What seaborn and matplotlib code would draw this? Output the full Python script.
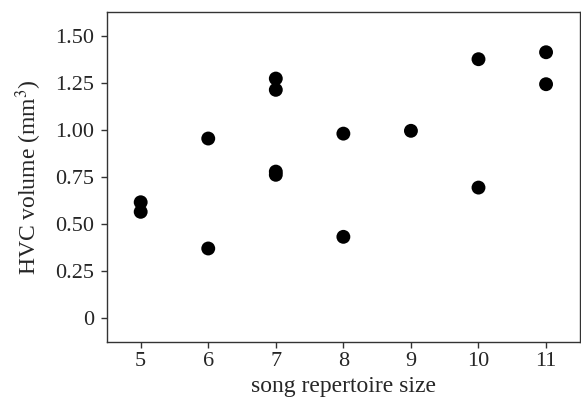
import matplotlib
matplotlib.use('Agg')
import matplotlib.pyplot as plt
import seaborn as sns
import pandas as pd

# song repertoire size vs HVC volume
repertoire = [5, 5, 6, 6, 7, 7, 7, 7, 8, 8, 9, 10, 10, 11, 11]
hvc_volume = [0.615, 0.564, 0.954, 0.369, 1.273, 1.213, 0.778, 0.761,
              0.980, 0.431, 0.995, 1.376, 0.693, 1.413, 1.243]

y_ticks = [0, 0.25, 0.50, 0.75, 1.00, 1.25, 1.50]
y_tick_labels = ["0", "0.25", "0.50", "0.75", "1.00", "1.25", "1.50"]
x_ticks = [5, 6, 7, 8, 9, 10, 11]

df = pd.DataFrame({"repertoire": repertoire, "hvc": hvc_volume})

sns.set_style("ticks")
plt.rcParams['font.family'] = ['Liberation Serif', 'DejaVu Serif']
plt.rcParams['mathtext.fontset'] = 'stix'

fig = plt.figure(figsize=(5.81, 4.08), dpi=100)
ax = fig.add_axes([0.184, 0.162, 0.814, 0.809])

sns.scatterplot(data=df, x="repertoire", y="hvc", ax=ax, color="black",
                s=100, edgecolor="none", linewidth=0)

ax.set_xlim(4.5, 11.5)
ax.set_ylim(-0.128, 1.628)
ax.set_xticks(x_ticks)
ax.set_xticklabels([str(v) for v in x_ticks])
ax.set_yticks(y_ticks)
ax.set_yticklabels(y_tick_labels)
ax.tick_params(labelsize=16, length=4, width=1, color="#333333")
ax.tick_params(axis="x", pad=3)
ax.tick_params(axis="y", pad=5)
ax.set_xlabel("song repertoire size", fontsize=17, labelpad=4)
ax.set_ylabel("HVC volume (mm$^3$)", fontsize=17, labelpad=8)
for sp in ax.spines.values():
    sp.set_visible(True)
    sp.set_color("#333333")
    sp.set_linewidth(1)

fig.savefig("out.png", dpi=100)
plt.close(fig)
